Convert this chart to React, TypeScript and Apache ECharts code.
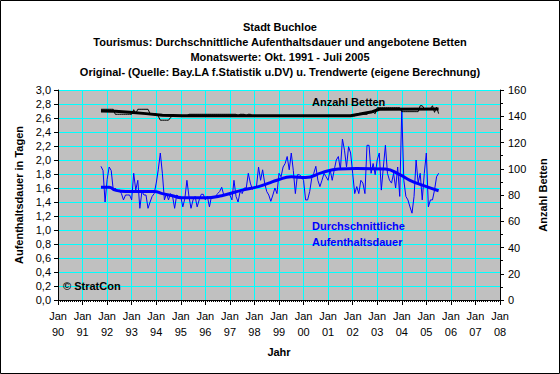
import React, { useEffect, useRef } from 'react';
import * as echarts from 'echarts';

const FONT = '"Liberation Sans", Arial, sans-serif';

// first month of data: Okt. 1991 (as decimal year)
const START_YEAR = 1991.75;

const titleLines = [
  'Stadt Buchloe',
  'Tourismus: Durchschnittliche Aufenthaltsdauer und angebotene Betten',
  'Monatswerte: Okt. 1991 - Juli 2005',
  'Original- (Quelle: Bay.LA f.Statistik u.DV) u. Trendwerte (eigene Berechnung)',
];

// Durchschnittliche Aufenthaltsdauer (Tage), monthly Okt 1991 .. Jul 2005
const stayRaw = [
  1.91, 1.85, 1.40, 1.72, 1.90, 1.85, 1.57, 1.60, 1.55, 1.57, 1.52, 1.43,
  1.50, 1.50, 1.50, 1.43, 1.81, 1.57, 1.71, 1.31, 1.55, 1.50, 1.50, 1.31,
  1.40, 1.48, 1.52, 1.67, 1.86, 2.10, 1.81, 1.43, 1.52, 1.43, 1.52, 1.48,
  1.31, 1.50, 1.48, 1.48, 1.33, 1.45, 1.71, 1.48, 1.31, 1.43, 1.48, 1.33,
  1.43, 1.51, 1.51, 1.43, 1.48, 1.33, 1.48, 1.48, 1.48, 1.52, 1.55, 1.61,
  1.50, 1.50, 1.52, 1.50, 1.43, 1.71, 1.48, 1.40, 1.55, 1.52, 1.60, 1.60,
  1.81, 1.67, 1.58, 1.61, 1.62, 1.90, 1.71, 1.86, 1.67, 1.55, 1.50, 1.41,
  1.50, 1.60, 1.52, 1.81, 1.76, 1.90, 1.95, 2.05, 1.86, 2.10, 1.85, 1.52,
  1.79, 1.79, 1.76, 1.71, 1.43, 1.43, 1.55, 1.74, 1.81, 1.91, 1.71, 1.62,
  1.71, 1.81, 1.76, 1.71, 1.86, 1.71, 1.86, 2.00, 2.05, 1.86, 2.30, 2.14,
  1.90, 2.19, 2.10, 1.81, 1.52, 1.62, 1.52, 1.71, 1.67, 1.52, 2.21, 2.21,
  1.81, 1.95, 1.79, 2.00, 2.10, 1.57, 1.90, 2.21, 1.81, 1.71, 1.67, 1.81,
  1.60, 1.90, 1.48, 2.72, 1.71, 1.48, 1.43, 1.33, 1.24, 1.48, 2.00, 1.67,
  1.81, 1.43, 1.81, 2.10, 1.33, 1.43, 1.43, 1.57, 1.76, 1.81,
];

// Trend of Aufenthaltsdauer: [month index, value]
const stayTrendMonths = [0, 4, 7, 12, 26, 30, 35, 39, 51, 59, 69, 77, 82, 86, 93, 100, 108, 116, 125, 139, 146, 151, 157, 165];
const stayTrendValues = [1.61, 1.61, 1.57, 1.55, 1.55, 1.52, 1.49, 1.46, 1.46, 1.49, 1.57, 1.62, 1.67, 1.71, 1.76, 1.75, 1.82, 1.87, 1.88, 1.87, 1.79, 1.71, 1.64, 1.56];

// Anzahl Betten, monthly Okt 1991 .. Jul 2005
const bedsRaw = [
  145.3, 145.3, 145.3, 145.3, 145.3, 145.3, 145.3, 141.5, 141.5, 141.5, 141.5, 141.5,
  141.5, 141.5, 141.5, 141.5, 145.0, 142.0, 145.3, 145.3, 145.3, 145.3, 145.3, 145.3,
  142.0, 142.0, 142.0, 142.0, 140.0, 137.0, 137.0, 137.0, 137.0, 137.0, 139.0, 140.4,
  140.4, 140.4, 140.4, 140.4, 140.4, 140.4, 140.4, 141.5, 141.5, 141.5, 141.5, 141.5,
  141.5, 141.5, 141.5, 141.5, 141.5, 141.5, 141.5, 141.5, 141.5, 141.5, 141.5, 141.5,
  141.5, 141.5, 141.5, 141.5, 141.5, 141.5, 141.5, 140.4, 141.5, 141.5, 141.5, 140.4,
  141.5, 141.5, 140.4, 140.4, 140.4, 140.4, 140.4, 140.4, 140.4, 140.4, 140.4, 140.4,
  140.4, 140.4, 140.4, 140.4, 140.4, 140.4, 140.4, 140.4, 140.4, 140.4, 140.4, 140.4,
  140.4, 140.4, 140.4, 140.4, 140.4, 140.4, 140.4, 140.4, 140.4, 140.4, 140.4, 140.4,
  140.4, 140.4, 140.4, 140.4, 140.4, 140.4, 140.4, 140.4, 140.4, 140.4, 140.4, 140.4,
  140.4, 140.4, 140.4, 140.4, 140.4, 141.5, 141.5, 141.5, 141.5, 141.5, 141.5, 143.0,
  143.0, 143.0, 142.0, 146.5, 146.5, 146.5, 146.5, 146.5, 146.5, 146.5, 146.5, 146.5,
  146.5, 146.5, 146.5, 143.5, 143.5, 143.5, 143.5, 143.5, 143.5, 143.5, 143.5, 143.5,
  148.0, 148.0, 145.8, 145.8, 145.8, 145.8, 148.0, 143.0, 147.0, 142.0,
];

// Trend of Betten: [month index, value]
const bedsTrendMonths = [0, 7, 14, 22, 30, 40, 122, 126, 132, 136, 165];
const bedsTrendValues = [144.0, 143.8, 143.0, 142.0, 140.8, 140.4, 140.4, 141.5, 143.2, 145.3, 145.5];

const xAxisMin = 1990;
const xAxisMax = 2008;

const monthX = (i: number) => START_YEAR + i / 12;

export default function App() {
  const ref = useRef<HTMLDivElement>(null);
  useEffect(() => {
    const chart = echarts.init(ref.current!, null, { renderer: 'svg' });
    const axisText = { color: '#000', fontSize: 11, fontFamily: FONT };
    const nameText = { color: '#000', fontSize: 11, fontWeight: 'bold' as const, fontFamily: FONT };
    chart.setOption({
      animation: false,
      backgroundColor: '#fff',
      textStyle: { fontFamily: FONT },
      title: {
        text: titleLines.join('\n'),
        left: 'center',
        top: 14,
        textStyle: { fontSize: 11, fontWeight: 'bold', color: '#000', lineHeight: 15, fontFamily: FONT },
      },
      grid: {
        left: 58, right: 60, top: 90, bottom: 74,
        show: true, backgroundColor: '#C0C0C0', borderWidth: 0,
      },
      xAxis: {
        type: 'value', min: xAxisMin, max: xAxisMax, interval: 1,
        name: 'Jahr', nameLocation: 'middle', nameGap: 46, nameTextStyle: nameText,
        axisLine: { lineStyle: { color: '#000', width: 1 } },
        axisTick: { length: 5, lineStyle: { color: '#000' } },
        minorTick: { show: true, splitNumber: 12, length: 2, lineStyle: { color: '#000' } },
        axisLabel: {
          ...axisText, lineHeight: 16, margin: 8, showMinLabel: true, showMaxLabel: true,
          formatter: (v: number) => 'Jan\n' + String(Math.round(v) % 100).padStart(2, '0'),
        },
        splitLine: { show: true, lineStyle: { color: '#00FFFF', width: 1 } },
      },
      yAxis: [
        {
          type: 'value', min: 0, max: 3, interval: 0.2, position: 'left',
          name: 'Aufenthaltsdauer in Tagen', nameLocation: 'middle', nameGap: 25, nameRotate: 90,
          nameTextStyle: nameText,
          axisLine: { show: true, lineStyle: { color: '#000' } },
          axisTick: { show: true, length: 4, lineStyle: { color: '#000' } },
          axisLabel: { ...axisText, margin: 7, formatter: (v: number) => v.toFixed(1).replace('.', ',') },
          splitLine: { show: true, lineStyle: { color: '#00FFFF', width: 1 } },
        },
        {
          type: 'value', min: 0, max: 160, interval: 20, position: 'right',
          name: 'Anzahl Betten', nameLocation: 'middle', nameGap: 37, nameRotate: 90,
          nameTextStyle: nameText,
          axisLine: { show: true, lineStyle: { color: '#000' } },
          axisTick: { show: true, length: 4, lineStyle: { color: '#000' } },
          minorTick: { show: true, splitNumber: 2, length: 3, lineStyle: { color: '#000' } },
          axisLabel: { ...axisText, margin: 8 },
          splitLine: { show: false },
        },
      ],
      series: [
        {
          type: 'line', yAxisIndex: 0, symbol: 'none',
          data: stayRaw.map((v, i) => [monthX(i), v]),
          lineStyle: { color: '#0000FF', width: 1 },
        },
        {
          type: 'line', yAxisIndex: 0, symbol: 'none', smooth: true,
          data: stayTrendMonths.map((m, i) => [monthX(m), stayTrendValues[i]]),
          lineStyle: { color: '#0000FF', width: 3 },
        },
        {
          type: 'line', yAxisIndex: 1, symbol: 'none',
          data: bedsRaw.map((v, i) => [monthX(i), v]),
          lineStyle: { color: '#000', width: 1 },
        },
        {
          type: 'line', yAxisIndex: 1, symbol: 'none',
          data: bedsTrendMonths.map((m, i) => [monthX(m), bedsTrendValues[i]]),
          lineStyle: { color: '#000', width: 3 },
        },
      ],
      graphic: [
        { type: 'rect', shape: { x: 0.5, y: 0.5, width: 559, height: 373 }, style: { fill: 'none', stroke: '#000', lineWidth: 1 }, z: 100 },
        { type: 'text', x: 63, y: 286, style: { text: '© StratCon', fill: '#000', font: `bold 11px ${FONT}`, verticalAlign: 'middle' }, z: 100 },
        { type: 'text', x: 312, y: 102, style: { text: 'Anzahl Betten', fill: '#000', font: `bold 11px ${FONT}`, verticalAlign: 'middle' }, z: 100 },
        { type: 'text', x: 312, y: 226, style: { text: 'Durchschnittliche', fill: '#0000FF', font: `bold 11px ${FONT}`, verticalAlign: 'middle' }, z: 100 },
        { type: 'text', x: 312, y: 242, style: { text: 'Aufenthaltsdauer', fill: '#0000FF', font: `bold 11px ${FONT}`, verticalAlign: 'middle' }, z: 100 },
      ],
    });
    return () => chart.dispose();
  }, []);
  return <div ref={ref} style={{ position: 'absolute', left: 0, top: 0, width: 560, height: 374 }} />;
}
